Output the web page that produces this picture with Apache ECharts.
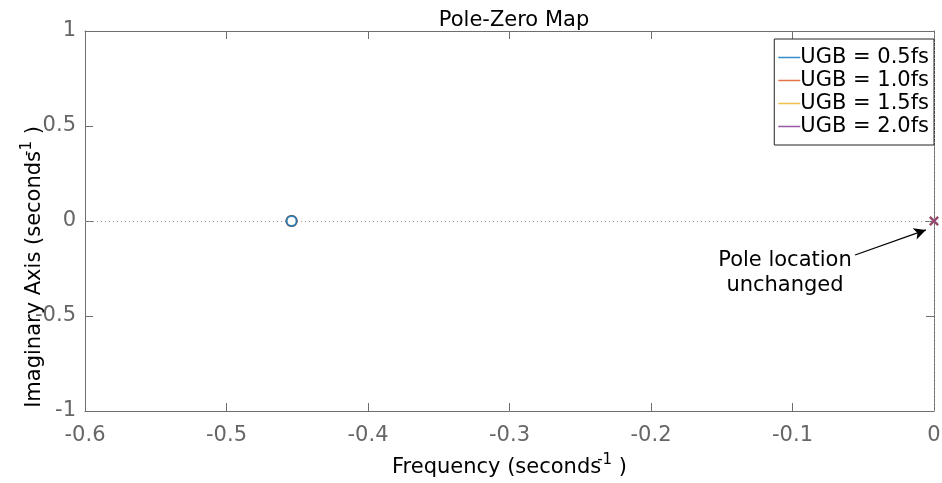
<!DOCTYPE html>
<html>
<head>
<meta charset="utf-8">
<script src="https://cdn.jsdelivr.net/npm/echarts@6/dist/echarts.min.js"></script>
<style>
  html, body { margin: 0; padding: 0; background: #fff; }
  #chart { width: 942px; height: 483px; }
</style>
</head>
<body>
<div id="chart"></div>
<script>
// Pole-zero map of the loop for four unity-gain bandwidths
const seriesNames = ['UGB = 0.5fs', 'UGB = 1.0fs', 'UGB = 1.5fs', 'UGB = 2.0fs'];
const seriesColors = ['#0072BD', '#D95319', '#EDB120', '#7E2F8E'];
const zeroReal = [-0.454, -0.454, -0.454, -0.454];
const zeroImag = [0, 0, 0, 0];
const poleReal = [0, 0, 0, 0];
const poleImag = [0, 0, 0, 0];
const xTicks = [-0.6, -0.5, -0.4, -0.3, -0.2, -0.1, 0];
const yTicks = [-1, -0.5, 0, 0.5, 1];

// Annotation placement (data coordinates)
const noteText = 'Pole location\nunchanged';
const noteAt = [-0.1053, -0.276];
const arrowFrom = [-0.0558, -0.179];
const arrowTo = [-0.0057, -0.047];

const FONT = 'DejaVu Sans';
const axisGray = '#6e6e6e';
const xMin = xTicks[0], xMax = xTicks[xTicks.length - 1];
const yMin = yTicks[0], yMax = yTicks[yTicks.length - 1];

function baseX(extra) {
  return Object.assign({
    type: 'value', min: xMin, max: xMax, interval: 0.1,
    axisLine: { show: true, onZero: false, lineStyle: { color: axisGray, width: 1 } },
    axisTick: { show: true, inside: true, length: 8, lineStyle: { color: axisGray } },
    splitLine: { show: false }
  }, extra);
}
function baseY(extra) {
  return Object.assign({
    type: 'value', min: yMin, max: yMax, interval: 0.5,
    axisLine: { show: true, onZero: false, lineStyle: { color: axisGray, width: 1 } },
    axisTick: { show: true, inside: true, length: 8, lineStyle: { color: axisGray } },
    splitLine: { show: false }
  }, extra);
}

const series = [];
// zeros: first series drawn on top
seriesNames.forEach((name, i) => {
  series.push({
    name: name, type: 'scatter', xAxisIndex: 0, yAxisIndex: 0,
    z: 10 - i,
    symbol: 'circle', symbolSize: 10,
    itemStyle: { color: '#fff', borderColor: seriesColors[i], borderWidth: 2 },
    data: [[zeroReal[i], zeroImag[i]]],
    silent: true
  });
});
// poles: last series drawn on top
seriesNames.forEach((name, i) => {
  series.push({
    name: name, type: 'scatter', xAxisIndex: 0, yAxisIndex: 0,
    z: 10 + i,
    symbol: 'path://M0,0L10,10M10,0L0,10', symbolSize: 8,
    itemStyle: { color: 'none', borderColor: seriesColors[i], borderWidth: 2 },
    data: [[poleReal[i], poleImag[i]]],
    silent: true
  });
});
// zero reference lines, arrow and note
series.push({
  type: 'line', xAxisIndex: 0, yAxisIndex: 0, data: [], z: 2, silent: true,
  markLine: {
    silent: true, symbol: ['none', 'none'], label: { show: false },
    lineStyle: { color: '#999', type: [1, 3], width: 1 },
    data: [{ yAxis: 0 }, { xAxis: 0 }]
  }
});
series.push({
  type: 'line', xAxisIndex: 0, yAxisIndex: 0, data: [], z: 20, silent: true,
  markLine: {
    silent: true, symbol: ['none', 'arrow'], symbolSize: [9, 12], label: { show: false },
    lineStyle: { color: '#000', type: 'solid', width: 1.3 },
    data: [[{ coord: arrowFrom }, { coord: arrowTo }]]
  },
  markPoint: {
    silent: true, symbol: 'circle', symbolSize: 0,
    label: {
      show: true, position: 'inside', formatter: noteText,
      fontFamily: FONT, fontSize: 21, lineHeight: 25, color: '#000', align: 'center'
    },
    data: [{ coord: noteAt }]
  }
});

const option = {
  animation: false,
  backgroundColor: '#fff',
  title: {
    text: 'Pole-Zero Map', left: 509, textAlign: 'center', top: 5,
    textStyle: { fontFamily: FONT, fontSize: 21, fontWeight: 'normal', color: '#000' }
  },
  grid: { left: 85, right: 8, top: 31, bottom: 72, containLabel: false, outerBoundsMode: 'none' },
  legend: {
    orient: 'vertical', right: 8, top: 39,
    backgroundColor: '#fff', borderColor: '#222', borderWidth: 1,
    padding: [7, 5, 7, 4], itemGap: 0,
    icon: 'rect', itemWidth: 22, itemHeight: 1.5,
    textStyle: { fontFamily: FONT, fontSize: 21, color: '#000', lineHeight: 23, padding: [0, 0, 0, -5] },
    data: seriesNames.map((n, i) => ({ name: n, itemStyle: { color: seriesColors[i], borderWidth: 0 } }))
  },
  xAxis: [
    baseX({
      position: 'bottom',
      name: '{a|Frequency (seconds}{s|-1}{a| )}', nameLocation: 'middle', nameGap: 42,
      nameMoveOverlap: false,
      nameTextStyle: {
        rich: {
          a: { fontFamily: FONT, fontSize: 21, color: '#000' },
          s: { fontFamily: FONT, fontSize: 15, color: '#000', padding: [0, 0, 14, -4] }
        }
      },
      axisLabel: { fontFamily: FONT, fontSize: 21, color: '#666', margin: 14 }
    }),
    baseX({ position: 'top', axisLabel: { show: false } })
  ],
  yAxis: [
    baseY({
      position: 'left',
      name: '{a|Imaginary Axis (seconds}{s|-1}{a| )}', nameLocation: 'middle', nameGap: 36, nameRotate: 90,
      nameMoveOverlap: false,
      nameTextStyle: {
        padding: [0, 92, 0, 0],
        rich: {
          a: { fontFamily: FONT, fontSize: 21, color: '#000' },
          s: { fontFamily: FONT, fontSize: 15, color: '#000', padding: [0, 0, 14, -5] }
        }
      },
      axisLabel: { fontFamily: FONT, fontSize: 21, color: '#666', margin: 9, padding: [5, 0, 0, 0] }
    }),
    baseY({ position: 'right', axisLabel: { show: false } })
  ],
  series: series
};

const chart = echarts.init(document.getElementById('chart'), null, { renderer: 'canvas' });
chart.setOption(option);
</script>
</body>
</html>
